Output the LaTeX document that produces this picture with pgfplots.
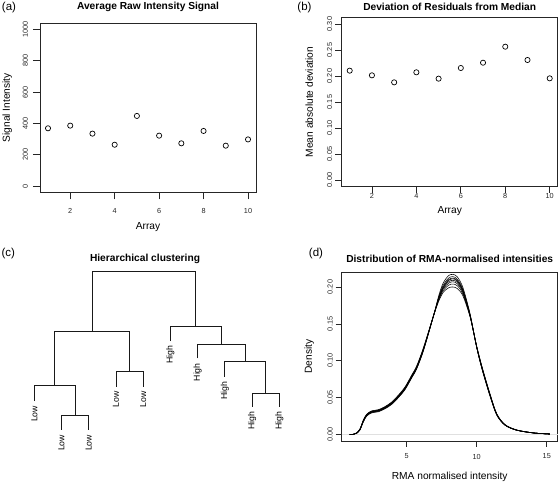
\documentclass[border=0pt]{standalone}
\usepackage{fontspec}
\setmainfont{Liberation Sans}
\usepackage{pgfplots}
\pgfplotsset{compat=1.18}
\usepackage{pgfplotstable}

\pgfplotstableread{
x y
1 369
2 386
3 335
4 264
5 448
6 322
7 273
8 352
9 258
10 298
}\rawdata

\pgfplotstableread{
x y
1 0.2103
2 0.2013
3 0.1878
4 0.2071
5 0.1949
6 0.2154
7 0.2256
8 0.2564
9 0.2308
10 0.1955
}\maddata

\pgfplotstableread{
x c1 c2 c3 c4 c5 c6 c7 c8
0.93 0 0 0 0 0 0 0 0
1.2 0.0004 0.0005 0.0005 0.0006 0.0005 0.0006 0.0005 0.0006
1.43 0.0018 0.0019 0.0020 0.0022 0.0021 0.0023 0.0021 0.0024
1.67 0.0065 0.0068 0.0070 0.0075 0.0072 0.0078 0.0074 0.0080
1.9 0.0170 0.0176 0.0180 0.0188 0.0183 0.0192 0.0186 0.0195
2.14 0.0250 0.0256 0.0260 0.0268 0.0263 0.0272 0.0266 0.0276
2.5 0.0295 0.0300 0.0305 0.0312 0.0308 0.0318 0.0312 0.0322
2.98 0.0310 0.0316 0.0320 0.0328 0.0324 0.0334 0.0328 0.0338
3.45 0.0350 0.0356 0.0360 0.0368 0.0364 0.0374 0.0370 0.0380
3.93 0.0410 0.0416 0.0420 0.0428 0.0424 0.0434 0.0432 0.0442
4.4 0.0500 0.0506 0.0510 0.0518 0.0514 0.0524 0.0524 0.0534
4.88 0.0610 0.0616 0.0620 0.0628 0.0625 0.0634 0.0636 0.0646
5.36 0.0770 0.0776 0.0780 0.0786 0.0786 0.0792 0.0798 0.0808
5.71 0.0890 0.0896 0.0900 0.0904 0.0908 0.0912 0.0920 0.0930
6.2 0.1140 0.1148 0.1150 0.1152 0.1160 0.1162 0.1172 0.1180
6.9 0.1600 0.1602 0.1600 0.1598 0.1605 0.1598 0.1605 0.1600
7.3 0.1890 0.1872 0.1860 0.1852 0.1850 0.1838 0.1830 0.1815
7.62 0.2060 0.2030 0.2010 0.2000 0.1990 0.1975 0.1955 0.1930
8.0 0.2155 0.2122 0.2100 0.2090 0.2072 0.2053 0.2025 0.1990
8.3 0.2170 0.2140 0.2120 0.2110 0.2090 0.2070 0.2040 0.2000
8.6 0.2140 0.2108 0.2090 0.2082 0.2064 0.2045 0.2018 0.1980
9.0 0.2000 0.1975 0.1960 0.1955 0.1943 0.1930 0.1910 0.1885
9.52 0.1640 0.1630 0.1620 0.1618 0.1615 0.1610 0.1605 0.1598
10.0 0.1180 0.1182 0.1180 0.1180 0.1185 0.1188 0.1192 0.1198
10.4 0.0870 0.0878 0.0880 0.0882 0.0888 0.0892 0.0898 0.0905
10.95 0.0520 0.0528 0.0530 0.0532 0.0536 0.0540 0.0545 0.0550
11.43 0.0265 0.0268 0.0270 0.0272 0.0274 0.0276 0.0279 0.0282
12.02 0.0128 0.0129 0.0130 0.0131 0.0132 0.0133 0.0134 0.0135
12.86 0.0059 0.0060 0.0060 0.0061 0.0061 0.0062 0.0062 0.0063
14.05 0.0022 0.0023 0.0023 0.0023 0.0023 0.0024 0.0024 0.0024
15.22 0.0008 0.0008 0.0008 0.0008 0.0008 0.0009 0.0009 0.0009
}\densdata

\pgfplotstableread{
x y label
1 11.7 Low
2 3.0 Low
3 3.0 Low
4 16.0 Low
5 16.0 Low
6 29.7 High
7 24.5 High
8 19.0 High
9 10.0 High
10 10.0 High
}\leafdata

\pgfplotsset{
  every axis title shift=0pt,
  rstyle/.style={
    scale only axis, anchor=south west, clip=false,
    axis line style={black!85, line width=0.8pt},
    tick align=outside, xtick pos=bottom, ytick pos=left,
    tick style={black!85, line width=0.8pt},
    major tick length=7pt,
    tick label style={font=\fontsize{7.3}{8}\selectfont, text=black!85, inner sep=0pt},
    /pgf/number format/assume math mode=true,
    label style={font=\fontsize{10.2}{12}\selectfont},
    title style={font=\bfseries\fontsize{10.2}{12}\selectfont, anchor=center, yshift=0pt},
    yticklabel style={rotate=90, anchor=center},
    xticklabel style={anchor=center},
  },
}

\begin{document}
\begin{tikzpicture}
\path[use as bounding box] (0pt,0pt) rectangle (560pt,484pt);

% (a)
\begin{axis}[rstyle, at={(40pt,291.7pt)}, width=216pt, height=169pt,
  xmin=0.64, xmax=10.36, ymin=-40, ymax=1040,
  xtick={2,4,6,8,10}, ytick={0,200,400,600,800,1000},
  /pgf/number format/1000 sep={},
  xticklabel shift=11.7pt, yticklabel shift=7.7pt,
  xlabel={Array}, ylabel={Signal Intensity},
  xlabel style={at={(axis description cs:0.5,-0.2036)}, anchor=center},
  ylabel style={at={(axis description cs:-0.1514,0.5)}, anchor=center},
  title={Average Raw Intensity Signal},
  title style={at={(axis description cs:0.5,1.0947)}, anchor=center}]
\addplot[only marks, mark=o, mark size=2.6pt, black, mark options={line width=0.7pt}] table[x=x,y=y] {\rawdata};
\end{axis}

% (b)
\begin{axis}[rstyle, at={(341.7pt,297.8pt)}, width=216pt, height=168.4pt,
  xmin=0.64, xmax=10.36, ymin=-0.012, ymax=0.312,
  xtick={2,4,6,8,10}, ytick={0,0.05,0.1,0.15,0.2,0.25,0.3},
  major tick length=6.5pt,
  yticklabel style={/pgf/number format/.cd, fixed, fixed zerofill, precision=2},
  xticklabel shift=3pt, yticklabel shift=5.7pt,
  xlabel={Array}, ylabel={Mean absolute deviation},
  xlabel style={at={(axis description cs:0.5,-0.1455)}, anchor=center},
  ylabel style={at={(axis description cs:-0.15,0.5)}, anchor=center},
  title={Deviation of Residuals from Median},
  title style={at={(axis description cs:0.5,1.0624)}, anchor=center}]
\addplot[only marks, mark=o, mark size=2.6pt, black, mark options={line width=0.7pt}] table[x=x,y=y] {\maddata};
\end{axis}

% (c)
\begin{axis}[rstyle, at={(20.7pt,44pt)}, width=272.2pt, height=168.3pt,
  xmin=0.5, xmax=10.5, ymin=0, ymax=50.5, hide axis,
  title={Hierarchical clustering},
  title style={at={(axis description cs:0.4567,1.0737)}, anchor=center}]
\addplot[black!90, line width=0.9pt] coordinates {(2,3.0) (2,7.5) (3,7.5) (3,3.0)};
\addplot[black!90, line width=0.9pt] coordinates {(1,11.7) (1,16.5) (2.5,16.5) (2.5,7.5)};
\addplot[black!90, line width=0.9pt] coordinates {(4,16.0) (4,20.5) (5,20.5) (5,16.0)};
\addplot[black!90, line width=0.9pt] coordinates {(1.75,16.5) (1.75,32.5) (4.5,32.5) (4.5,20.5)};
\addplot[black!90, line width=0.9pt] coordinates {(9,10.0) (9,14.0) (10,14.0) (10,10.0)};
\addplot[black!90, line width=0.9pt] coordinates {(8,19.0) (8,23.5) (9.5,23.5) (9.5,14.0)};
\addplot[black!90, line width=0.9pt] coordinates {(7,24.5) (7,28.8) (8.75,28.8) (8.75,23.5)};
\addplot[black!90, line width=0.9pt] coordinates {(6,29.7) (6,34.2) (7.875,34.2) (7.875,28.8)};
\addplot[black!90, line width=0.9pt] coordinates {(3.125,32.5) (3.125,50.5) (6.9375,50.5) (6.9375,34.2)};
\addplot[draw=none, mark=none, nodes near coords, point meta=explicit symbolic,
  nodes near coords style={font=\fontsize{8.7}{10}\selectfont, text=black, inner sep=0pt, outer xsep=5pt, rotate=90, anchor=east}]
  table[x=x, y=y, meta=label] {\leafdata};
\end{axis}

% (d)
\begin{axis}[rstyle, at={(341.7pt,43pt)}, width=216pt, height=168.7pt,
  xmin=0.36, xmax=15.78, ymin=-0.0086, ymax=0.2199,
  xtick={5,10,15}, ytick={0,0.05,0.1,0.15,0.2},
  major tick length=6pt,
  yticklabel style={/pgf/number format/.cd, fixed, fixed zerofill, precision=2},
  xticklabel shift=9.5pt, yticklabel shift=5.7pt,
  xlabel={RMA normalised intensity}, ylabel={Density},
  xlabel style={at={(axis description cs:0.5,-0.2116)}, anchor=center},
  ylabel style={at={(axis description cs:-0.15,0.5)}, anchor=center},
  title={Distribution of RMA-normalised intensities},
  title style={at={(axis description cs:0.5,1.0788)}, anchor=center}]
\addplot[black!12, line width=1.2pt] coordinates {(0.36,0) (15.78,0)};
\pgfplotsinvokeforeach{c1,c2,c3,c4,c5,c6,c7,c8}{
  \addplot[black, line width=0.55pt, smooth] table[x=x, y=#1] {\densdata};
}
\end{axis}

\node[font=\fontsize{11.5}{13}\selectfont] at (9pt,476.5pt) {(a)};
\node[font=\fontsize{11.5}{13}\selectfont] at (304.5pt,476.7pt) {(b)};
\node[font=\fontsize{11.5}{13}\selectfont] at (8.3pt,230pt) {(c)};
\node[font=\fontsize{11.5}{13}\selectfont] at (316pt,230.7pt) {(d)};
\end{tikzpicture}
\end{document}
